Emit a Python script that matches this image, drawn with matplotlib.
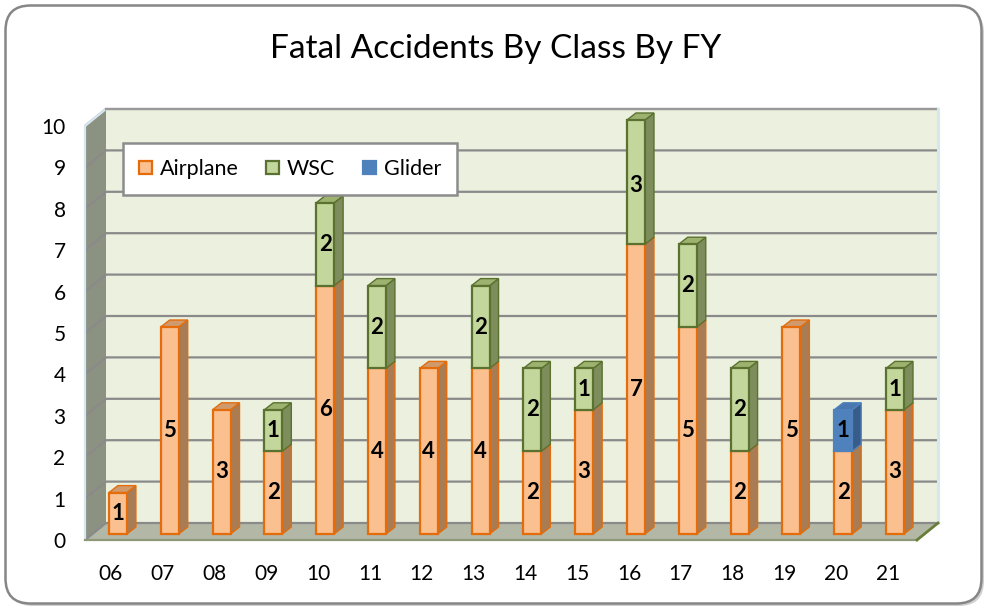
"""Fatal accidents by aircraft class per fiscal year, Excel-style 3D stacked columns."""
import numpy as np
import matplotlib.pyplot as plt
from matplotlib.patches import Polygon, FancyBboxPatch

years = ["06", "07", "08", "09", "10", "11", "12", "13",
         "14", "15", "16", "17", "18", "19", "20", "21"]
airplane = [1, 5, 3, 2, 6, 4, 4, 4, 2, 3, 7, 5, 2, 5, 2, 3]
wsc = [0, 0, 0, 1, 2, 2, 0, 2, 2, 1, 3, 2, 2, 0, 0, 1]
glider = [0, 0, 0, 0, 0, 0, 0, 0, 0, 0, 0, 0, 0, 0, 1, 0]

series = [
    # name, values, front, edge, side, top
    ("Airplane", airplane, "#fac090", "#e46c0a", "#a87c55", "#d09a6c"),
    ("WSC", wsc, "#c3d69b", "#5a7130", "#7d8d5c", "#9db26f"),
    ("Glider", glider, "#4f81bd", "#4f81bd", "#375c8a", "#4977b0"),
]

plt.rcParams.update({"font.family": ["Lato", "DejaVu Sans"]})

W, H = 984, 609
fig = plt.figure(figsize=(W / 100, H / 100), dpi=100)

# rounded chart frame with a soft shadow, kept behind the axes
shadow = FancyBboxPatch((0.08, 0.03), 9.76, 5.98, boxstyle="round,pad=0,rounding_size=0.25",
                        transform=fig.dpi_scale_trans, facecolor="#d0d0d0", edgecolor="none",
                        zorder=-2)
frame = FancyBboxPatch((0.055, 0.055), 9.76, 5.98, boxstyle="round,pad=0,rounding_size=0.25",
                       transform=fig.dpi_scale_trans, facecolor="white", edgecolor="#868686",
                       lw=1.8, zorder=-1)
fig.patches.extend([shadow, frame])

fig.text(496 / W, 1 - 49 / H, "Fatal Accidents By Class By FY", ha="center", va="center",
         fontsize=24, color="black")

# axes = front plane of the 3D box
ax = fig.add_axes([85 / W, (H - 540) / H, (917 - 85) / W, (540 - 126) / H])
x0, x1 = -0.5, 15.56
ax.set_xlim(x0, x1)
ax.set_ylim(0, 10)
ax.patch.set_visible(False)
for s in ax.spines.values():
    s.set_visible(False)

sx = (917 - 85) / (x1 - x0)
sy = (540 - 126) / 10.0


def off(px, py):
    return px / sx, py / sy


dX, dY = off(21, 17)
back = Polygon([(x0 + dX, dY), (x1 + dX, dY), (x1 + dX, 10 + dY), (x0 + dX, 10 + dY)],
               facecolor="#ebf1de", edgecolor="none", zorder=0.5, clip_on=False)
left = Polygon([(x0, 0), (x0 + dX, dY), (x0 + dX, 10 + dY), (x0, 10)],
               facecolor="#8c9282", edgecolor="none", zorder=0.6, clip_on=False)
floor = Polygon([(x0, 0), (x1, 0), (x1 + dX, dY), (x0 + dX, dY)],
                facecolor="#b2b7a6", edgecolor="none", zorder=0.7, clip_on=False)
for p in (back, left, floor):
    ax.add_patch(p)

for v in range(11):
    ax.plot([x0, x0 + dX, x1 + dX], [v, v + dY, v + dY], color="#8a8a8a", lw=1.6,
            zorder=1, clip_on=False, solid_capstyle="butt")
ax.plot([x0, x0, x0 + dX], [0, 10, 10 + dY], color="#d5e8f0", lw=1.6, zorder=1.1, clip_on=False)
ax.plot([x0 + dX, x1 + dX], [10 + dY, 10 + dY], color="#9a9a9a", lw=1.6, zorder=1.1, clip_on=False)
ax.plot([x1 + dX, x1 + dX], [dY, 10 + dY], color="#d5e8f0", lw=2.2, zorder=1.1, clip_on=False)
ax.plot([x0, x1], [0, 0], color="#8e9878", lw=1.6, zorder=1.1, clip_on=False)
ax.plot([x1, x1 + dX], [0, dY], color="#687d38", lw=2.0, zorder=1.1, clip_on=False)

# bars
w = 18 / sx
bx, by = off(7, 6)
ddx, ddy = off(9, 7)
x = np.arange(len(years))
bottom = np.zeros(len(years))
handles = []
for name, vals, front, edge, side, top in series:
    vals = np.array(vals, dtype=float)
    m = vals > 0
    for i in x[m]:
        b = bottom[i] + by
        t = b + vals[i]
        xl = i + bx - w / 2
        xr = i + bx + w / 2
        ax.add_patch(Polygon([(xr, b), (xr + ddx, b + ddy), (xr + ddx, t + ddy), (xr, t)],
                             facecolor=side, edgecolor=edge, lw=1.0, zorder=3, clip_on=False))
        ax.add_patch(Polygon([(xl, t), (xr, t), (xr + ddx, t + ddy), (xl + ddx, t + ddy)],
                             facecolor=top, edgecolor=edge, lw=1.0, zorder=3, clip_on=False))
    bars = ax.bar(x[m] + bx, vals[m], bottom=bottom[m] + by, width=w, color=front,
                  edgecolor=edge, lw=1.6, zorder=3, label=name, clip_on=False)
    ax.bar_label(bars, labels=[str(int(v)) for v in vals[m]], label_type="center",
                 fontsize=16, fontweight="bold", color="black", zorder=5)
    handles.append(bars)
    bottom += vals

ax.set_xticks(x, years)
ax.set_yticks(range(11))
ax.tick_params(axis="both", length=0, labelsize=15, colors="black")
ax.tick_params(axis="y", pad=14)
ax.tick_params(axis="x", pad=17)

leg = fig.legend(handles=handles, loc="upper left", bbox_to_anchor=(123 / W, 1 - 143 / H),
                 ncol=3, frameon=True, fancybox=False, edgecolor="#8c8c8c", facecolor="white",
                 fontsize=15.5, handlelength=0.6, handleheight=0.6, handletextpad=0.35,
                 columnspacing=1.3, borderpad=0.75, borderaxespad=0, framealpha=1)
leg.get_frame().set_linewidth(1.8)

fig.savefig("out.png", dpi=100)
